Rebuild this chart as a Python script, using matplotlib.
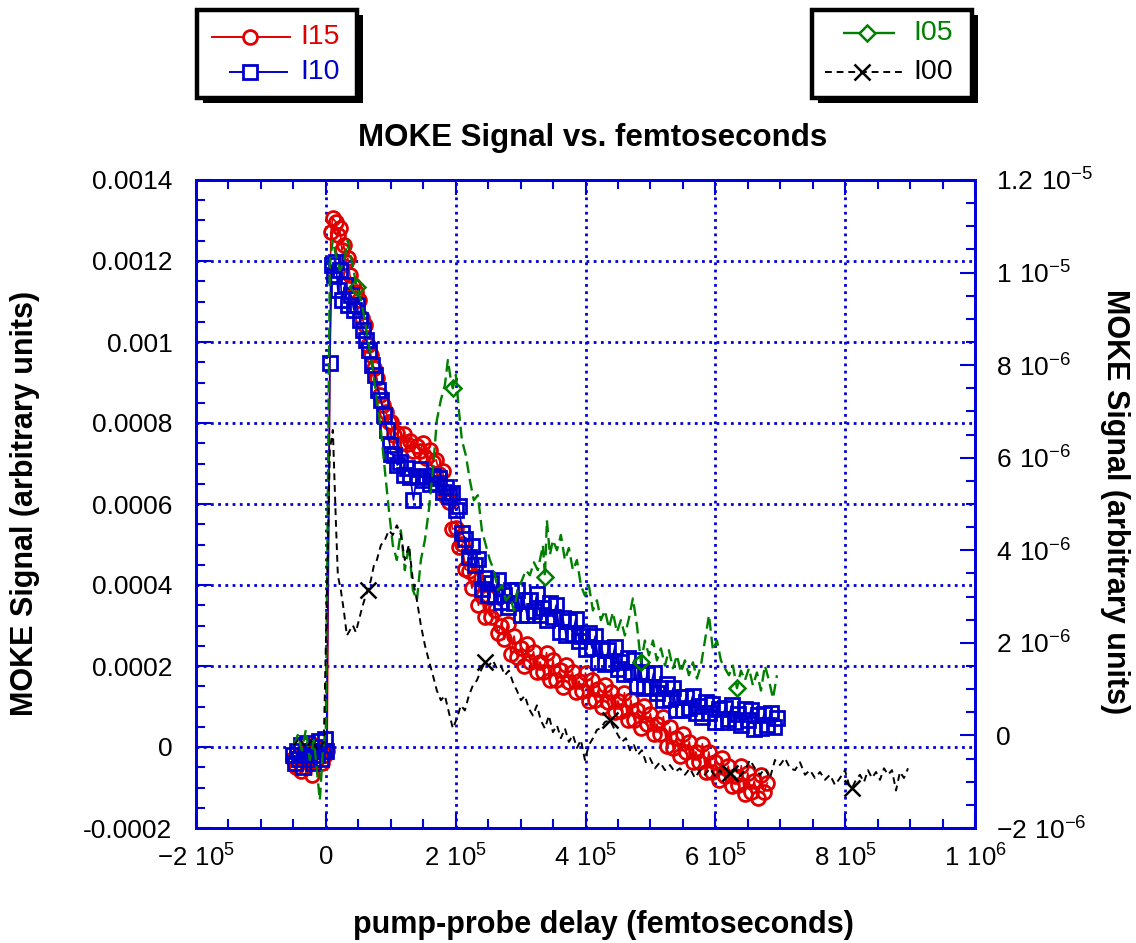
import numpy as np
import matplotlib
matplotlib.use("Agg")
import matplotlib.pyplot as plt
from matplotlib.ticker import MultipleLocator, FuncFormatter
from matplotlib.patches import Rectangle

plt.rcParams['font.family'] = ['Liberation Sans', 'DejaVu Sans']
plt.rcParams['mathtext.fontset'] = 'custom'
plt.rcParams['mathtext.rm'] = 'Liberation Sans'

# I15 (left axis), delay in fs
I15_x = [-50000, -46000, -42000, -38000, -34000, -30000, -26000, -22000, -18000, -14000,
         -10000, -6000, -2000, 2000,
         7700, 10800, 15400, 18500, 21600, 24700, 27700, 30800, 33900, 37000,
         41600, 46200, 50900, 55500, 60100, 64700, 69300, 74000, 78600, 83200,
         87800, 92500, 97100,
         100000, 105000, 110000, 115000, 120000, 125000, 130000, 135000, 140000, 145000,
         150000, 155000, 160000, 165000, 170000, 175000, 180000, 185000, 190000, 195000,
         200000, 205000, 210000, 215000, 220000, 225000, 230000, 235000, 240000, 245000,
         250000, 255000, 260000, 265000, 270000, 275000, 280000, 285000, 290000, 295000,
         300000, 305000, 310000, 315000, 320000, 325000, 330000, 335000, 340000, 345000,
         350000, 355000, 360000, 365000, 370000, 375000, 380000, 385000, 390000, 395000,
         400000, 405000, 410000, 415000, 420000, 425000, 430000, 435000, 440000, 445000,
         450000, 455000, 460000, 465000, 470000, 475000, 480000, 485000, 490000, 495000,
         500000, 505000, 510000, 515000, 520000, 525000, 530000, 535000, 540000, 545000,
         550000, 555000, 560000, 565000, 570000, 575000, 580000, 585000, 590000, 595000,
         600000, 605000, 610000, 615000, 620000, 625000, 630000, 635000, 640000, 645000,
         650000, 655000, 660000, 665000, 670000, 675000, 680000]
I15_y = [-3e-5, -5e-5, -2e-5, -6e-5, -3e-5, -1e-5, -4e-5, -7e-5, 0.5e-5, -3e-5,
         -1e-5, -4e-5, -2e-5, -1e-5,
         1.271e-3, 1.306e-3, 1.296e-3, 1.264e-3, 1.281e-3, 1.227e-3, 1.239e-3, 1.197e-3, 1.207e-3, 1.165e-3,
         1.141e-3, 1.123e-3, 1.104e-3, 1.059e-3, 1.042e-3, 0.993e-3, 0.968e-3, 0.936e-3, 0.911e-3, 0.869e-3,
         0.844e-3, 0.827e-3, 0.802e-3,
         8.02e-4, 7.70e-4, 7.75e-4, 7.48e-4, 7.73e-4, 7.48e-4, 7.56e-4, 7.31e-4, 7.44e-4, 7.30e-4,
         7.50e-4, 7.13e-4, 7.33e-4, 7.04e-4, 7.09e-4, 6.74e-4, 6.81e-4, 6.17e-4, 6.05e-4, 5.38e-4,
         5.41e-4, 4.94e-4, 5.01e-4, 4.39e-4, 4.35e-4, 3.92e-4, 4.23e-4, 3.50e-4, 3.73e-4, 3.21e-4,
         3.71e-4, 3.21e-4, 3.39e-4, 2.81e-4, 2.99e-4, 2.66e-4, 3.04e-4, 2.29e-4, 2.74e-4, 2.22e-4,
         2.45e-4, 2.00e-4, 2.55e-4, 2.10e-4, 2.35e-4, 1.85e-4, 2.10e-4, 1.85e-4, 2.33e-4, 1.65e-4,
         2.15e-4, 1.65e-4, 1.90e-4, 1.48e-4, 2.03e-4, 1.60e-4, 1.85e-4, 1.35e-4, 1.63e-4, 1.38e-4,
         1.83e-4, 1.13e-4, 1.66e-4, 1.16e-4, 1.43e-4, 0.98e-4, 1.53e-4, 1.11e-4, 1.36e-4, 0.86e-4,
         1.14e-4, 0.89e-4, 1.34e-4, 0.66e-4, 1.16e-4, 0.66e-4, 0.91e-4, 0.47e-4, 1.02e-4, 0.57e-4,
         0.82e-4, 0.32e-4, 0.57e-4, 0.32e-4, 0.75e-4, 0.02e-4, 0.50e-4, -0.03e-4, 0.22e-4, -0.23e-4,
         0.32e-4, -0.12e-4, 0.13e-4, -0.37e-4, -0.12e-4, -0.37e-4, 0.08e-4, -0.62e-4, -0.12e-4, -0.62e-4,
         -0.37e-4, -0.82e-4, -0.27e-4, -0.72e-4, -0.47e-4, -0.97e-4, -0.72e-4, -0.94e-4, -0.46e-4, -1.16e-4,
         -0.64e-4, -1.11e-4, -0.84e-4, -1.26e-4, -0.69e-4, -1.11e-4, -0.89e-4]

# I10 (left axis)
I10_x = [-50000, -47000, -44000, -41000, -38000, -35000, -32000, -29000, -26000, -23000,
         -20000, -17000, -14000, -11000, -8000, -5000, -2000, 1000,
         6200, 9200, 12300, 15400, 18500, 21600, 24700, 29300, 33900, 38500,
         43100, 47800, 52400, 57000, 61600, 66300, 70900, 75500, 80100, 84800,
         89400, 94000, 98600,
         100000, 105000, 110000, 115000, 120000, 125000, 130000, 135000, 140000, 145000,
         150000, 155000, 160000, 165000, 170000, 175000, 180000, 185000, 190000, 195000,
         200000, 205000, 210000, 215000, 220000, 225000, 230000, 235000, 240000, 245000,
         250000, 255000, 260000, 265000, 270000, 275000, 280000, 285000, 290000, 295000,
         300000, 305000, 310000, 315000, 320000, 325000, 330000, 335000, 340000, 345000,
         350000, 355000, 360000, 365000, 370000, 375000, 380000, 385000, 390000, 395000,
         400000, 405000, 410000, 415000, 420000, 425000, 430000, 435000, 440000, 445000,
         450000, 455000, 460000, 465000, 470000, 475000, 480000, 485000, 490000, 495000,
         500000, 505000, 510000, 515000, 520000, 525000, 530000, 535000, 540000, 545000,
         550000, 555000, 560000, 565000, 570000, 575000, 580000, 585000, 590000, 595000,
         600000, 605000, 610000, 615000, 620000, 625000, 630000, 635000, 640000, 645000,
         650000, 655000, 660000, 665000, 670000, 675000, 680000, 685000, 690000, 695000]
I10_y = [-2e-5, -4e-5, -1e-5, -3e-5, 0.5e-5, -5e-5, -2e-5, 1e-5, -3e-5, -1e-5,
         -4e-5, 0.0, -2e-5, 1.5e-5, -3e-5, -1e-5, 2e-5, -1e-5,
         0.948e-3, 1.190e-3, 1.165e-3, 1.197e-3, 1.128e-3, 1.178e-3, 1.104e-3, 1.141e-3, 1.091e-3, 1.116e-3,
         1.079e-3, 1.091e-3, 1.054e-3, 1.030e-3, 1.005e-3, 0.980e-3, 0.943e-3, 0.918e-3, 0.881e-3, 0.857e-3,
         0.820e-3, 0.783e-3, 0.746e-3,
         7.23e-4, 7.21e-4, 6.96e-4, 7.04e-4, 6.71e-4, 6.89e-4, 6.67e-4, 6.10e-4, 6.69e-4, 6.86e-4,
         6.59e-4, 6.67e-4, 6.49e-4, 6.69e-4, 6.51e-4, 6.64e-4, 6.29e-4, 6.42e-4, 6.20e-4, 6.28e-4,
         5.85e-4, 5.95e-4, 5.28e-4, 5.14e-4, 4.69e-4, 4.97e-4, 4.49e-4, 4.65e-4, 3.90e-4, 4.17e-4,
         3.75e-4, 4.05e-4, 3.73e-4, 4.13e-4, 3.58e-4, 3.75e-4, 3.45e-4, 3.88e-4, 3.55e-4, 3.88e-4,
         3.26e-4, 3.63e-4, 3.26e-4, 3.63e-4, 3.36e-4, 3.78e-4, 3.26e-4, 3.43e-4, 3.13e-4, 3.56e-4,
         3.21e-4, 3.51e-4, 2.84e-4, 3.19e-4, 2.76e-4, 3.11e-4, 2.79e-4, 3.16e-4, 2.62e-4, 2.74e-4,
         2.42e-4, 2.82e-4, 2.44e-4, 2.74e-4, 2.09e-4, 2.45e-4, 2.05e-4, 2.40e-4, 2.07e-4, 2.47e-4,
         1.92e-4, 2.10e-4, 1.80e-4, 2.20e-4, 1.85e-4, 2.15e-4, 1.50e-4, 1.85e-4, 1.45e-4, 1.80e-4,
         1.48e-4, 1.83e-4, 1.33e-4, 1.46e-4, 1.16e-4, 1.56e-4, 1.18e-4, 1.46e-4, 0.91e-4, 1.24e-4,
         0.91e-4, 1.24e-4, 0.96e-4, 1.26e-4, 0.84e-4, 1.01e-4, 0.74e-4, 1.11e-4, 0.84e-4, 1.06e-4,
         0.61e-4, 0.94e-4, 0.61e-4, 0.96e-4, 0.69e-4, 1.04e-4, 0.62e-4, 0.82e-4, 0.54e-4, 0.94e-4,
         0.67e-4, 0.92e-4, 0.44e-4, 0.79e-4, 0.47e-4, 0.82e-4, 0.54e-4, 0.84e-4, 0.49e-4, 0.72e-4]

# I05 (right axis)
I05_x = [-49300, -43100, -37000, -30800, -24700, -18500, -13900, -9200, -4600, 0,
         6200, 10800, 15400, 21600, 27700, 33900, 40100, 47800, 53900, 60100,
         66300, 72400, 78600, 84800, 90900, 97100, 103200, 109400, 115600, 121700,
         127900, 134100, 140300, 146400, 152600, 158700, 164900, 171000, 177200, 183400,
         188000, 192600, 195700, 200300, 204900, 209600, 215700, 221900, 228000, 234200,
         240400, 246500, 252700, 258900, 265000, 271200, 277400, 283500, 289700, 295800,
         302000, 308200, 314300, 320500, 326600, 334400, 337500, 340500, 345200, 349800,
         356000, 362100, 368300, 374400, 380600, 386800, 392900, 399100, 405200, 411400,
         417600, 423700, 429900, 436100, 442200, 448400, 454500, 460700, 466900, 473000,
         479200, 485400, 491500, 497700, 503900, 510000, 516200, 522400, 528500, 534700,
         540900, 547000, 553200, 559300, 565500, 571700, 577800, 584000, 590200, 596300,
         602500, 608600, 614800, 620900, 627100, 633300, 639400, 645600, 651800, 657900,
         664100, 670300, 676400, 682600, 688800, 694900]
I05_y = [-0.21e-6, 0.01e-6, -0.32e-6, 0.12e-6, -0.53e-6, -0.10e-6, -0.75e-6, -1.40e-6, -0.32e-6, 0.16e-6,
         10.23e-6, 10.70e-6, 10.38e-6, 10.05e-6, 10.23e-6, 10.70e-6, 10.23e-6, 9.69e-6, 9.41e-6, 8.98e-6,
         8.43e-6, 7.89e-6, 7.25e-6, 6.60e-6, 5.73e-6, 4.87e-6, 4.11e-6, 3.79e-6, 4.43e-6, 3.57e-6,
         4.11e-6, 3.14e-6, 2.92e-6, 3.79e-6, 4.22e-6, 4.87e-6, 5.73e-6, 6.81e-6, 7.25e-6, 7.57e-6,
         8.11e-6, 7.68e-6, 7.50e-6, 7.79e-6, 7.03e-6, 6.38e-6, 6.05e-6, 5.51e-6, 5.08e-6, 5.19e-6,
         4.43e-6, 4.11e-6, 3.79e-6, 3.57e-6, 3.14e-6, 3.24e-6, 2.92e-6, 3.02e-6, 2.70e-6, 3.14e-6,
         3.35e-6, 3.57e-6, 3.46e-6, 3.74e-6, 3.57e-6, 4.11e-6, 3.42e-6, 4.65e-6, 3.90e-6, 4.22e-6,
         4.00e-6, 4.33e-6, 3.79e-6, 4.05e-6, 3.57e-6, 3.79e-6, 3.24e-6, 3.02e-6, 3.24e-6, 2.70e-6,
         2.92e-6, 2.49e-6, 2.70e-6, 2.32e-6, 2.66e-6, 2.23e-6, 2.49e-6, 2.16e-6, 2.53e-6, 2.96e-6,
         2.38e-6, 1.58e-6, 2.05e-6, 1.73e-6, 2.05e-6, 1.62e-6, 1.88e-6, 1.51e-6, 1.84e-6, 1.45e-6,
         1.73e-6, 1.36e-6, 1.62e-6, 1.30e-6, 1.58e-6, 1.23e-6, 1.51e-6, 2.05e-6, 2.60e-6, 1.84e-6,
         2.05e-6, 1.62e-6, 1.45e-6, 1.30e-6, 1.51e-6, 1.02e-6, 1.40e-6, 1.19e-6, 1.45e-6, 1.08e-6,
         1.36e-6, 0.97e-6, 1.51e-6, 1.19e-6, 0.80e-6, 1.30e-6]
I05_marks = [47800, 195700, 337500, 485400, 633300]

# I00 (right axis)
I00_x = [-49300, -40100, -30800, -21600, -12300, -3100,
         6200, 10800, 15400, 18500, 23100, 27700, 32400, 37000, 41600, 46200,
         50900, 55500, 60100, 64700, 69300, 74000, 78600, 84800, 90900, 97100,
         103200, 109400, 115600, 121700, 127900, 134100, 140300, 146400, 152600, 158700,
         164900, 171000, 177200, 183400, 189500, 195700, 201900, 208000, 214200, 220300,
         226500, 232700, 238800, 245000, 251200, 257300, 263500, 269600, 275800, 282000,
         288100, 294300, 300500, 306600, 312800, 319000, 325100, 331300, 337500, 343600,
         349800, 356000, 362100, 368300, 374400, 380600, 386800, 392900, 399100, 405200,
         411400, 417600, 423700, 429900, 437600, 443800, 449900, 456100, 462300, 468400,
         474600, 480700, 486900, 493100, 499200, 506900, 514700, 522400, 530100, 537800,
         545500, 553200, 560900, 568600, 576300, 584000, 591700, 599400, 607100, 614800,
         622500, 630200, 637900, 645600, 653300, 661000, 668700, 676500, 684100, 691900,
         699600, 707300, 715000, 722700, 730400, 738100, 745800, 753500, 761200, 768900,
         776600, 784300, 792000, 799700, 805900, 810500, 816600, 822800, 829000, 835100,
         841300, 847500, 853600, 859800, 866000, 872100, 878300, 884400, 890600, 896800]
I00_y = [-0.21e-6, -0.06e-6, -0.27e-6, -0.10e-6, -0.32e-6, -0.15e-6,
         6.17e-6, 6.60e-6, 4.65e-6, 3.46e-6, 3.14e-6, 2.70e-6, 2.16e-6, 2.27e-6, 2.38e-6, 2.23e-6,
         2.49e-6, 2.74e-6, 2.96e-6, 3.14e-6, 3.35e-6, 3.67e-6, 3.79e-6, 4.11e-6, 4.22e-6, 4.43e-6,
         4.33e-6, 4.54e-6, 4.33e-6, 3.79e-6, 4.11e-6, 3.35e-6, 2.92e-6, 2.38e-6, 1.95e-6, 1.62e-6,
         1.30e-6, 0.97e-6, 0.76e-6, 0.86e-6, 0.50e-6, 0.15e-6, 0.37e-6, 0.65e-6, 0.54e-6, 0.86e-6,
         1.08e-6, 1.19e-6, 1.40e-6, 1.58e-6, 1.51e-6, 1.62e-6, 1.45e-6, 1.51e-6, 1.30e-6, 1.40e-6,
         1.15e-6, 0.97e-6, 0.76e-6, 0.86e-6, 0.58e-6, 0.43e-6, 0.65e-6, 0.32e-6, 0.15e-6, 0.43e-6,
         0.07e-6, 0.22e-6, -0.06e-6, 0.15e-6, -0.14e-6, 0.01e-6, -0.27e-6, -0.10e-6, -0.53e-6, -0.21e-6,
         -0.06e-6, 0.12e-6, 0.16e-6, 0.29e-6, 0.33e-6, 0.16e-6, 0.01e-6, -0.14e-6, -0.06e-6, -0.32e-6,
         -0.21e-6, -0.42e-6, -0.32e-6, -0.58e-6, -0.49e-6, -0.71e-6, -0.58e-6, -0.75e-6, -0.64e-6, -0.79e-6,
         -0.71e-6, -0.85e-6, -0.71e-6, -0.92e-6, -0.75e-6, -0.85e-6, -0.71e-6, -0.88e-6, -0.75e-6, -0.92e-6,
         -0.81e-6, -0.71e-6, -0.88e-6, -0.75e-6, -0.53e-6, -0.71e-6, -0.85e-6, -0.71e-6, -0.92e-6, -0.53e-6,
         -0.64e-6, -0.49e-6, -0.71e-6, -0.75e-6, -0.58e-6, -0.85e-6, -0.75e-6, -0.92e-6, -0.79e-6, -0.96e-6,
         -0.85e-6, -1.07e-6, -0.92e-6, -0.75e-6, -1.07e-6, -1.14e-6, -0.96e-6, -0.85e-6, -1.01e-6, -0.75e-6,
         -0.92e-6, -0.79e-6, -0.96e-6, -0.71e-6, -0.85e-6, -0.75e-6, -1.19e-6, -0.79e-6, -0.92e-6, -0.71e-6]
I00_marks = [64700, 245000, 437600, 622500, 810500]

RED = '#e00000'
BLUE = '#0000cc'
GREEN = '#007f00'
FRAME = '#0000d8'


def sci_label(v, pos):
    if abs(v) < 1e-15:
        return '0'
    e = int(np.floor(np.log10(abs(v)) + 1e-9))
    m = round(v / 10.0**e, 3)
    return r'$\mathregular{%g\ 10^{%d}}$' % (m, e)


def plain_label(v, pos):
    v = round(v, 8)
    if v == 0:
        return '0'
    return '%g' % v


fig = plt.figure(figsize=(11.36, 9.43), dpi=100)
ax = fig.add_axes([196/1136, 115/943, 779/1136, 648/943])
ax2 = ax.twinx()

ax.plot(I15_x, I15_y, '-', color=RED, lw=1.2, marker='o', ms=10, mfc='none', mec=RED, mew=2.0)
ax.plot(I10_x, I10_y, '-', color=BLUE, lw=1.2, marker='s', ms=10, mfc='none', mec=BLUE, mew=2.0)

g_idx = [I05_x.index(v) for v in I05_marks]
k_idx = [I00_x.index(v) for v in I00_marks]
ax2.plot(I05_x, I05_y, color=GREEN, lw=1.7, dashes=(5, 2.5), marker='D', ms=8,
         mfc='none', mec=GREEN, mew=1.8, markevery=g_idx)
ax2.plot(I00_x, I00_y, color='black', lw=1.4, dashes=(3.5, 2.5), marker='x', ms=12,
         mec='black', mew=1.8, markevery=k_idx)

ax.set_xlim(-2e5, 1e6)
ax.set_ylim(-0.0002, 0.0014)
ax2.set_ylim(-2e-6, 1.2e-5)

ax.xaxis.set_major_locator(MultipleLocator(2e5))
ax.xaxis.set_minor_locator(MultipleLocator(5e4))
ax.yaxis.set_major_locator(MultipleLocator(0.0002))
ax.yaxis.set_minor_locator(MultipleLocator(0.00005))
ax2.yaxis.set_major_locator(MultipleLocator(2e-6))
ax2.yaxis.set_minor_locator(MultipleLocator(5e-7))
ax.xaxis.set_major_formatter(FuncFormatter(sci_label))
ax.yaxis.set_major_formatter(FuncFormatter(plain_label))
ax2.yaxis.set_major_formatter(FuncFormatter(sci_label))
ax2.yaxis.get_offset_text().set_visible(False)

ax.grid(True, which='major', color=FRAME, lw=2, linestyle=(0, (1, 1.6)))
ax.set_axisbelow(True)

for a in (ax, ax2):
    for s in a.spines.values():
        s.set_color(FRAME)
        s.set_linewidth(2)
ax.tick_params(axis='x', which='both', direction='in', top=True, color=FRAME, width=1.5,
               labelsize=18.5, pad=12)
ax.tick_params(axis='y', which='both', direction='in', right=False, color=FRAME, width=1.5,
               labelsize=19, pad=17)
ax2.tick_params(axis='y', which='both', direction='in', color=FRAME, width=1.5,
                labelsize=19, pad=15)
for a in (ax, ax2):
    a.tick_params(which='major', length=11)
    a.tick_params(which='minor', length=6.5)

fig.text(593/1136, 1 - 138/943, 'MOKE Signal vs. femtoseconds', ha='center', va='center',
         fontsize=22.5, fontweight='bold')
fig.text(603/1136, 1 - 925/943, 'pump-probe delay (femtoseconds)', ha='center', va='center',
         fontsize=22, fontweight='bold')
fig.text(25/1136, 1 - 503/943, 'MOKE Signal (arbitrary units)', ha='center', va='center',
         rotation=90, fontsize=22, fontweight='bold')
fig.text(1115/1136, 1 - 502/943, 'MOKE Signal (arbitrary units)', ha='center', va='center',
         rotation=270, fontsize=22, fontweight='bold')

# legend boxes drawn in pixel space
ov = fig.add_axes([0, 0, 1, 1])
ov.set_xlim(0, 1136)
ov.set_ylim(943, 0)
ov.axis('off')
for bx in (197, 812):
    ov.add_patch(Rectangle((bx + 6, 15), 160, 88, facecolor='black', edgecolor='none'))
    ov.add_patch(Rectangle((bx, 10), 160, 88, facecolor='white', edgecolor='black', lw=3.2))

ov.plot([212, 290], [37, 37], color=RED, lw=1.4)
ov.plot([250], [37], marker='o', ms=10, mfc='white', mec=RED, mew=2.0)
ov.text(300, 37, 'I15', color=RED, fontsize=20.5, va='center', ha='left')
ov.plot([230, 287], [72, 72], color=BLUE, lw=1.4)
ov.plot([250], [72], marker='s', ms=10, mfc='white', mec=BLUE, mew=2.0)
ov.text(300, 72, 'I10', color=BLUE, fontsize=20.5, va='center', ha='left')

ov.plot([843, 897], [33, 33], color=GREEN, lw=1.7, dashes=(9, 4))
ov.plot([867], [33], marker='D', ms=8, mfc='white', mec=GREEN, mew=1.8)
ov.text(913, 33, 'I05', color=GREEN, fontsize=20.5, va='center', ha='left')
ov.plot([825, 905], [72, 72], color='black', lw=1.4, dashes=(3.5, 2.5))
ov.plot([862], [72], marker='x', ms=12, mec='black', mew=1.8)
ov.text(913, 72, 'I00', color='black', fontsize=20.5, va='center', ha='left')

fig.savefig('out.png', dpi=100)
